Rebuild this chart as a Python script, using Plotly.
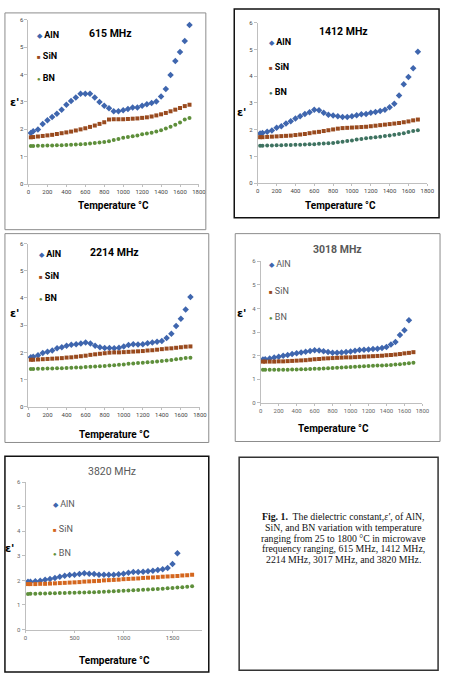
import plotly.graph_objects as go

W, H = 449, 686

TEMP = [25, 50, 100, 150, 200, 250, 300, 350, 400, 450, 500, 550, 600, 650, 700, 750,
        800, 850, 900, 950, 1000, 1050, 1100, 1150, 1200, 1250, 1300, 1350, 1400, 1450,
        1500, 1550, 1600, 1650, 1700]

# ---- 615 MHz ----
ALN_615 = [1.87, 1.93, 2.00, 2.20, 2.33, 2.45, 2.57, 2.72, 2.90, 3.04, 3.16, 3.30, 3.30, 3.30,
           3.16, 3.00, 2.86, 2.77, 2.66, 2.66, 2.70, 2.74, 2.80, 2.80, 2.86, 2.92, 2.96, 3.02,
           3.20, 3.47, 3.99, 4.50, 4.83, 5.23, 5.81]
SIN_615 = [1.71, 1.72, 1.74, 1.76, 1.78, 1.80, 1.83, 1.86, 1.89, 1.92, 1.96, 2.00, 2.04, 2.09,
           2.14, 2.20, 2.26, 2.36, 2.37, 2.37, 2.37, 2.38, 2.39, 2.40, 2.42, 2.44, 2.47, 2.51,
           2.55, 2.60, 2.66, 2.72, 2.78, 2.85, 2.90]
BN_615 = [1.39, 1.39, 1.40, 1.40, 1.41, 1.41, 1.42, 1.42, 1.43, 1.44, 1.45, 1.46, 1.47, 1.48,
          1.50, 1.52, 1.54, 1.57, 1.61, 1.65, 1.69, 1.72, 1.75, 1.78, 1.82, 1.85, 1.88, 1.92,
          1.97, 2.03, 2.10, 2.17, 2.25, 2.36, 2.42]

# ---- 1412 MHz ----
ALN_1412 = [1.86, 1.88, 1.92, 1.97, 2.07, 2.13, 2.23, 2.32, 2.42, 2.50, 2.59, 2.65, 2.75, 2.73,
            2.63, 2.56, 2.53, 2.50, 2.48, 2.48, 2.50, 2.54, 2.58, 2.59, 2.63, 2.66, 2.70, 2.75,
            2.84, 2.97, 3.28, 3.70, 3.97, 4.30, 4.92]
SIN_1412 = [1.72, 1.72, 1.73, 1.74, 1.75, 1.76, 1.77, 1.78, 1.80, 1.82, 1.84, 1.87, 1.90, 1.92,
            1.95, 1.98, 2.01, 2.04, 2.06, 2.07, 2.08, 2.09, 2.10, 2.11, 2.13, 2.15, 2.17, 2.19,
            2.21, 2.23, 2.25, 2.28, 2.31, 2.35, 2.38]
BN_1412 = [1.40, 1.40, 1.41, 1.41, 1.42, 1.42, 1.43, 1.43, 1.44, 1.44, 1.45, 1.46, 1.46, 1.47,
           1.48, 1.49, 1.50, 1.53, 1.55, 1.58, 1.60, 1.63, 1.65, 1.68, 1.70, 1.72, 1.74, 1.76,
           1.78, 1.81, 1.84, 1.87, 1.91, 1.95, 1.98]

# ---- 2214 MHz ----
ALN_2214 = [1.82, 1.84, 1.90, 1.98, 2.02, 2.07, 2.15, 2.19, 2.24, 2.28, 2.30, 2.33, 2.36, 2.33,
            2.24, 2.19, 2.16, 2.16, 2.15, 2.17, 2.22, 2.27, 2.30, 2.29, 2.30, 2.34, 2.36, 2.39,
            2.42, 2.53, 2.69, 2.97, 3.24, 3.58, 4.04]
SIN_2214 = [1.73, 1.73, 1.74, 1.75, 1.76, 1.77, 1.78, 1.79, 1.81, 1.82, 1.84, 1.86, 1.88, 1.91,
            1.93, 1.95, 1.97, 1.99, 2.00, 2.00, 2.01, 2.02, 2.03, 2.04, 2.05, 2.07, 2.08, 2.10,
            2.12, 2.14, 2.15, 2.17, 2.19, 2.21, 2.22]
BN_2214 = [1.39, 1.39, 1.40, 1.40, 1.41, 1.41, 1.42, 1.42, 1.43, 1.44, 1.45, 1.45, 1.46, 1.47,
           1.48, 1.49, 1.50, 1.52, 1.53, 1.55, 1.56, 1.58, 1.59, 1.61, 1.62, 1.64, 1.65, 1.67,
           1.68, 1.70, 1.72, 1.75, 1.77, 1.79, 1.80]

# ---- 3018 MHz ----
ALN_3018 = [1.84, 1.85, 1.88, 1.92, 1.96, 2.00, 2.03, 2.07, 2.10, 2.14, 2.17, 2.20, 2.23, 2.22,
            2.19, 2.16, 2.13, 2.13, 2.14, 2.16, 2.18, 2.21, 2.24, 2.25, 2.26, 2.28, 2.30, 2.33,
            2.37, 2.48, 2.58, 2.88, 3.08, 3.50]
SIN_3018 = [1.75, 1.75, 1.75, 1.75, 1.76, 1.76, 1.77, 1.78, 1.79, 1.80, 1.81, 1.83, 1.85, 1.86,
            1.88, 1.89, 1.90, 1.91, 1.92, 1.93, 1.93, 1.94, 1.95, 1.96, 1.97, 1.98, 1.99, 2.00,
            2.02, 2.03, 2.05, 2.07, 2.10, 2.12, 2.15]
BN_3018 = [1.40, 1.40, 1.40, 1.40, 1.41, 1.41, 1.41, 1.42, 1.42, 1.43, 1.43, 1.44, 1.45, 1.45,
           1.46, 1.47, 1.48, 1.49, 1.50, 1.51, 1.52, 1.53, 1.54, 1.55, 1.56, 1.57, 1.58, 1.59,
           1.60, 1.61, 1.63, 1.64, 1.66, 1.68, 1.70]

# ---- 3820 MHz ----
ALN_3820 = [1.94, 1.94, 1.97, 1.99, 2.03, 2.06, 2.10, 2.15, 2.19, 2.22, 2.23, 2.26, 2.29, 2.27,
            2.26, 2.23, 2.23, 2.23, 2.23, 2.25, 2.27, 2.31, 2.34, 2.34, 2.35, 2.37, 2.39, 2.42,
            2.45, 2.50, 2.67, 3.10]
SIN_3820 = [1.85, 1.85, 1.85, 1.86, 1.86, 1.87, 1.88, 1.89, 1.90, 1.91, 1.92, 1.93, 1.95, 1.96,
            1.97, 1.98, 2.00, 2.01, 2.02, 2.03, 2.05, 2.06, 2.07, 2.08, 2.10, 2.11, 2.12, 2.13,
            2.15, 2.16, 2.17, 2.18, 2.20, 2.21, 2.23]
BN_3820 = [1.45, 1.46, 1.46, 1.47, 1.47, 1.48, 1.48, 1.49, 1.49, 1.50, 1.50, 1.51, 1.51, 1.52,
           1.52, 1.53, 1.54, 1.55, 1.56, 1.57, 1.58, 1.59, 1.60, 1.61, 1.62, 1.63, 1.64, 1.65,
           1.66, 1.68, 1.69, 1.71, 1.72, 1.74, 1.76]

SERIES_NAMES = ["AlN", "SiN", "BN"]
Y_TICKS = [0, 1, 2, 3, 4, 5, 6]
X_TICKS_A = [0, 200, 400, 600, 800, 1000, 1200, 1400, 1600, 1800]
X_TICKS_B = [0, 500, 1000, 1500]
CAPTION_LINES = [
    "<b>Fig. 1.</b>  The dielectric constant,<i>ε'</i>, of AlN,",
    "SiN, and BN variation with temperature",
    "ranging from 25 to 1800 °C in microwave",
    "frequency ranging, 615 MHz, 1412 MHz,",
    "2214 MHz, 3017 MHz, and 3820 MHz.",
]


def px(x):
    return x / W


def py(y):
    return 1 - y / H


NARROW = "Liberation Sans Narrow, Arial Narrow, Roboto, Liberation Sans, sans-serif"
BLUE = "#3F66AE"
BROWN = "#994A1E"
GREEN = "#5E8F3B"
TEAL = "#3F7361"
ORANGE = "#D4661E"

panels = [
    dict(title="615 MHz", aln=ALN_615, sin=SIN_615, bn=BN_615,
         plot=(27, 201, 16, 182), box=(3, 208, 9, 228), boxcol="#8c8c8c", boxw=1,
         colors=(BLUE, BROWN, GREEN), ttl=(111, 30), tcol="#000", tbold=True,
         leg=(37, 33, 22), ytl=(13, 100), xtl=(114, 204), xt=X_TICKS_A),
    dict(title="1412 MHz", aln=ALN_1412, sin=SIN_1412, bn=BN_1412,
         plot=(261, 434, 19, 181), box=(237, 446, 5, 216), boxcol="#111", boxw=1.5,
         colors=(BLUE, BROWN, TEAL), ttl=(348, 28), tcol="#000", tbold=True,
         leg=(273, 40, 25.5), ytl=(245, 110), xtl=(345, 204), xt=X_TICKS_A),
    dict(title="2214 MHz", aln=ALN_2214, sin=SIN_2214, bn=BN_2214,
         plot=(27, 202, 242, 407), box=(3, 211, 232, 443), boxcol="#8c8c8c", boxw=1,
         colors=(BLUE, BROWN, GREEN), ttl=(115, 251), tcol="#000", tbold=True,
         leg=(39, 255, 22), ytl=(13, 313), xtl=(115, 435), xt=X_TICKS_A),
    dict(title="3018 MHz", aln=ALN_3018, sin=SIN_3018, bn=BN_3018,
         plot=(264, 429, 260, 403), box=(238, 447, 232, 442), boxcol="#8c8c8c", boxw=1,
         colors=(BLUE, BROWN, GREEN), ttl=(342, 248), tcol="#595959", tbold=True,
         leg=(273, 265, 26.5), ytl=(245, 313), xtl=(338, 429), xt=X_TICKS_A),
    dict(title="3820 MHz", aln=ALN_3820, sin=SIN_3820, bn=BN_3820,
         plot=(24, 204, 483, 632), box=(3, 211, 457, 675), boxcol="#111", boxw=1.5,
         colors=(BLUE, ORANGE, GREEN), ttl=(112, 472), tcol="#595959", tbold=False,
         leg=(53, 507, 25), ytl=(8, 550), xtl=(115, 663), xt=X_TICKS_B),
]

fig = go.Figure()
shapes = []
annotations = []
layout_axes = {}

for i, p in enumerate(panels):
    n = i + 1
    xa = "x" if n == 1 else f"x{n}"
    ya = "y" if n == 1 else f"y{n}"
    x0, x1, y0, y1 = p["plot"]
    ca, cs, cb = p["colors"]
    series = [
        (p["aln"], ca, "diamond", 5),
        (p["sin"], cs, "square", 4),
        (p["bn"], cb, "circle", 4),
    ]
    for (vals, col, sym, sz), name in zip(series, SERIES_NAMES):
        fig.add_trace(go.Scatter(
            x=TEMP[:len(vals)], y=vals, mode="markers", name=name,
            marker=dict(symbol=sym, size=sz, color=col, line=dict(width=0)),
            xaxis=xa, yaxis=ya, showlegend=False, cliponaxis=False))

    light = p["tcol"] != "#000"
    tick_font = dict(family=NARROW, size=6, color="#444" if not light else "#666")
    layout_axes[("xaxis" if n == 1 else f"xaxis{n}")] = dict(
        domain=[px(x0), px(x1)], anchor=ya, range=[0, 1800],
        tickmode="array", tickvals=p["xt"], ticktext=[str(t) for t in p["xt"]],
        showgrid=False, zeroline=False, showline=True, linecolor="#bfbfbf", linewidth=1,
        ticks="outside", ticklen=2, tickcolor="#bfbfbf", tickfont=tick_font)
    layout_axes[("yaxis" if n == 1 else f"yaxis{n}")] = dict(
        domain=[py(y1), py(y0)], anchor=xa, range=[0, 6],
        tickmode="array", tickvals=Y_TICKS, ticktext=[str(t) for t in Y_TICKS],
        showgrid=False, zeroline=False, showline=True, linecolor="#bfbfbf", linewidth=1,
        ticks="outside", ticklen=3, tickcolor="#bfbfbf", tickfont=tick_font)

    bx0, bx1, by0, by1 = p["box"]
    shapes.append(dict(type="rect", xref="paper", yref="paper",
                       x0=px(bx0), x1=px(bx1), y0=py(by1), y1=py(by0),
                       line=dict(color=p["boxcol"], width=p["boxw"])))

    tb = "<b>%s</b>" if p["tbold"] else "%s"
    annotations.append(dict(xref="paper", yref="paper", x=px(p["ttl"][0]), y=py(p["ttl"][1]),
                            text=tb % p["title"], showarrow=False,
                            font=dict(family=NARROW, size=10.5, color=p["tcol"]),
                            xanchor="center", yanchor="middle"))
    lx, ly, lstep = p["leg"]
    glyphs = ["◆", "■", "●"]
    gsize = [7, 6, 6]
    for k, name in enumerate(SERIES_NAMES):
        col = p["colors"][k]
        nm = f"<b>{name}</b>" if not light else name
        annotations.append(dict(
            xref="paper", yref="paper", x=px(lx - 3), y=py(ly - 2 + k * lstep),
            text=f"<span style='color:{col};font-size:{gsize[k]}px'>{glyphs[k]}</span> {nm}",
            showarrow=False, xanchor="left", yanchor="middle",
            font=dict(family=NARROW, size=9, color="#000" if not light else "#595959")))
    annotations.append(dict(xref="paper", yref="paper", x=px(p["ytl"][0]), y=py(p["ytl"][1]),
                            text="<b>ε'</b>", showarrow=False, xanchor="center", yanchor="middle",
                            font=dict(family="DejaVu Sans, sans-serif", size=11, color="#000")))
    annotations.append(dict(xref="paper", yref="paper", x=px(p["xtl"][0]), y=py(p["xtl"][1]),
                            text="<b>Temperature °C</b>",
                            showarrow=False, xanchor="center", yanchor="middle",
                            font=dict(family=NARROW, size=10, color="#000")))

# caption box
shapes.append(dict(type="rect", xref="paper", yref="paper",
                   x0=px(242), x1=px(445), y0=py(673), y1=py(458),
                   line=dict(color="#333", width=1.5)))
for j, line in enumerate(CAPTION_LINES):
    annotations.append(dict(xref="paper", yref="paper", x=px(348), y=py(518 + j * 10.8),
                            text=line, showarrow=False, xanchor="center", yanchor="middle",
                            font=dict(family="Liberation Serif, Times New Roman, serif", size=9.8,
                                      color="#111")))

fig.update_layout(
    width=W, height=H, margin=dict(l=0, r=0, t=0, b=0),
    paper_bgcolor="white", plot_bgcolor="white",
    shapes=shapes, annotations=annotations, showlegend=False,
    **layout_axes)

fig.write_html("out.html")
